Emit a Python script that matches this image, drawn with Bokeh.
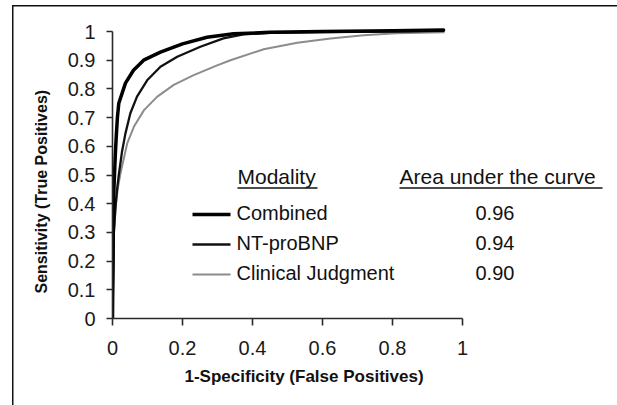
from bokeh.plotting import figure
from bokeh.models import Range1d, FixedTicker, Label, Title
from bokeh.embed import file_html
from bokeh.resources import INLINE

# ---- data ----
combined_fpr = [0.0, 0.002, 0.004, 0.008, 0.011, 0.014, 0.018, 0.037, 0.06, 0.089, 0.137, 0.2, 0.27, 0.346, 0.45, 0.6, 0.8, 0.946]
combined_tpr = [0.0, 0.3, 0.45, 0.57, 0.64, 0.7, 0.75, 0.82, 0.865, 0.9, 0.928, 0.957, 0.98, 0.992, 0.997, 1.0, 1.003, 1.005]

ntprobnp_fpr = [0.0, 0.004, 0.008, 0.013, 0.018, 0.027, 0.037, 0.051, 0.07, 0.099, 0.137, 0.185, 0.251, 0.317, 0.374, 0.45, 0.6, 0.8, 0.946]
ntprobnp_tpr = [0.0, 0.3, 0.38, 0.45, 0.5, 0.58, 0.645, 0.715, 0.773, 0.83, 0.877, 0.912, 0.947, 0.976, 0.99, 0.995, 0.998, 1.0, 1.002]

clinical_fpr = [0.0, 0.004, 0.01, 0.016, 0.023, 0.042, 0.061, 0.09, 0.128, 0.175, 0.232, 0.299, 0.337, 0.432, 0.528, 0.623, 0.718, 0.81, 0.946]
clinical_tpr = [0.0, 0.3, 0.4, 0.46, 0.507, 0.61, 0.668, 0.726, 0.773, 0.814, 0.848, 0.882, 0.9, 0.938, 0.961, 0.976, 0.987, 0.994, 0.997]

modalities = ["Combined", "NT-proBNP", "Clinical Judgment"]
auc_values = ["0.96", "0.94", "0.90"]

x_ticks = [0, 0.2, 0.4, 0.6, 0.8, 1]
x_tick_labels = ["0", "0.2", "0.4", "0.6", "0.8", "1"]
y_ticks = [0, 0.1, 0.2, 0.3, 0.4, 0.5, 0.6, 0.7, 0.8, 0.9, 1]
y_tick_labels = ["0", "0.1", "0.2", "0.3", "0.4", "0.5", "0.6", "0.7", "0.8", "0.9", "1"]

x_title = "1-Specificity (False Positives)"
y_title = "Sensitivity (True Positives)"

# ---- styles / layout ----
FONT = "Liberation Sans"
line_colors = ["#000000", "#111111", "#8c8c8c"]
line_widths = [3.5, 2.3, 2.0]

W, H = 617, 405
LEFT, TOP, BOTTOM = 112, 13, 87
PX_X = 350.0   # pixels per unit x
PX_Y = 287.0   # pixels per unit y
frame_w = W - LEFT
frame_h = H - TOP - BOTTOM

p = figure(width=W, height=H, output_backend="svg", toolbar_location=None,
           x_range=Range1d(0, frame_w / PX_X), y_range=Range1d(0, frame_h / PX_Y),
           min_border_left=LEFT, min_border_right=0, min_border_top=TOP,
           min_border_bottom=BOTTOM)
p.outline_line_color = None
p.grid.visible = False
p.background_fill_color = "white"
p.border_fill_color = None
p.styles = {
    "background": ("linear-gradient(#111,#111) no-repeat 12px 5px / 1.5px 400px, "
                   "linear-gradient(#111,#111) no-repeat 12px 5px / 605px 1.5px, white"),
}

# page-pixel helpers
ox, oy = LEFT, TOP + frame_h
def dx(px):
    return (px - ox) / PX_X
def dy(py):
    return (oy - py) / PX_Y

# axes
for ax, ticks, labels, tout, standoff in (
        (p.xaxis[0], x_ticks, x_tick_labels, 7, 15),
        (p.yaxis[0], y_ticks, y_tick_labels, 6, 11)):
    ax.bounds = (0, 1)
    ax.ticker = FixedTicker(ticks=ticks)
    ax.major_label_overrides = {t: l for t, l in zip(ticks, labels)}
    ax.minor_tick_line_color = None
    ax.major_tick_in = 0
    ax.major_tick_out = tout
    ax.major_label_standoff = standoff
    ax.axis_line_width = 1.6
    ax.axis_line_color = "#2a2a2a"
    ax.major_tick_line_width = 1.6
    ax.major_tick_line_color = "#2a2a2a"
    ax.major_label_text_font = FONT
    ax.major_label_text_font_size = "20px"
    ax.major_label_text_color = "#1a1a1a"

# axis titles as side titles (offset from the frame edge)
p.add_layout(Title(text=x_title, align="left", offset=184 - LEFT, standoff=14,
                   text_font=FONT, text_font_size="17px", text_font_style="bold",
                   text_color="#111"), "below")
p.add_layout(Title(text=y_title, align="left", offset=oy - 293, standoff=29,
                   text_font=FONT, text_font_size="16px", text_font_style="bold",
                   text_color="#111"), "left")

# curves (drawn lightest first)
series = [(clinical_fpr, clinical_tpr, 2), (ntprobnp_fpr, ntprobnp_tpr, 1), (combined_fpr, combined_tpr, 0)]
for xs, ys, i in series:
    p.line(xs, ys, line_color=line_colors[i], line_width=line_widths[i],
           line_join="round", line_cap="round")

# legend table
head_y = 176
p.add_layout(Label(x=dx(237), y=dy(head_y), text="Modality", text_font=FONT,
                   text_font_size="21px", text_align="left", text_baseline="middle", text_color="#111"))
p.add_layout(Label(x=dx(399), y=dy(head_y), text="Area under the curve", text_font=FONT,
                   text_font_size="21px", text_align="left", text_baseline="middle", text_color="#111"))
p.segment(x0=[dx(237), dx(399)], y0=[dy(187.5)] * 2, x1=[dx(317), dx(602)], y1=[dy(187.5)] * 2,
          line_color="#111", line_width=1.5)

row_y = [212, 242, 272]
for i, (name, auc) in enumerate(zip(modalities, auc_values)):
    yy = row_y[i]
    p.segment(x0=[dx(192)], y0=[dy(yy + 2)], x1=[dx(230)], y1=[dy(yy + 2)],
              line_color=line_colors[i], line_width=line_widths[i])
    p.add_layout(Label(x=dx(236), y=dy(yy), text=name, text_font=FONT, text_font_size="20px",
                       text_align="left", text_baseline="middle", text_color="#111"))
    p.add_layout(Label(x=dx(475), y=dy(yy), text=auc, text_font=FONT, text_font_size="20px",
                       text_align="left", text_baseline="middle", text_color="#111"))

open("out.html", "w").write(file_html(p, INLINE))
